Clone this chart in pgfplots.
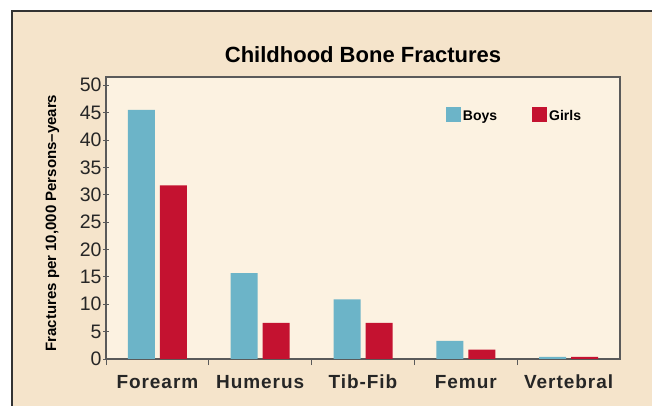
\documentclass[border=0pt]{standalone}
\usepackage{fontspec}
\setmainfont{Liberation Sans}
\newfontfamily\catfont[LetterSpace=5]{Liberation Sans}
\usepackage{pgfplots}
\pgfplotsset{compat=1.18}
\definecolor{outerbg}{HTML}{F5E4CB}
\definecolor{innerbg}{HTML}{FCF2E1}
\definecolor{boys}{HTML}{6CB4C8}
\definecolor{girls}{HTML}{C41230}
\definecolor{axisgray}{HTML}{5A5A5A}
\begin{document}
\begin{tikzpicture}[x=1pt,y=1pt]
\useasboundingbox (0,0) rectangle (652,406);
\fill[outerbg] (12,0) rectangle (652,395);
\draw[line width=1.8pt, black!80] (12,0) -- (12,395) -- (652,395);
\begin{axis}[
  at={(106pt,47pt)}, anchor=south west,
  width=514pt, height=282pt, scale only axis,
  xmin=-0.5, xmax=4.5, ymin=0, ymax=51.5,
  axis background/.style={fill=innerbg},
  axis line style={axisgray, line width=1.2pt},
  ytick={0,5,...,50},
  xtick={0,...,4},
  xticklabels={Forearm,Humerus,Tib-Fib,Femur,Vertebral},
  minor xtick={-0.5,0.5,1.5,2.5,3.5},
  major x tick style={draw=none},
  tick style={axisgray, line width=0.8pt},
  tick align=center,
  major tick length=6pt, minor tick length=6pt,
  xtick pos=bottom, ytick pos=left,
  /pgf/number format/assume math mode=true,
  y tick label style={font=\fontsize{19.5}{19.5}\selectfont, text=black!85, xshift=2pt},
  x tick label style={font=\catfont\bfseries\fontsize{19}{19}\selectfont, text=black!85, anchor=base, yshift=-23pt},
  ylabel={Fractures per 10,000 Persons--years},
  ylabel style={font=\bfseries\fontsize{15}{15}\selectfont, at={(axis description cs:-0.097,0.482)}, anchor=base},
  title={Childhood Bone Fractures},
  title style={font=\bfseries\fontsize{22}{22}\selectfont, at={(axis description cs:0.5,1)}, anchor=base, yshift=8pt},
  ybar=5pt, bar width=27pt,
  legend style={at={(axis description cs:0.661,0.862)}, anchor=west, draw=none, fill=none,
    font=\bfseries\fontsize{14}{14}\selectfont, inner sep=0pt,
    nodes={inner sep=2pt},
    /tikz/every even column/.append style={column sep=33pt}},
  legend columns=2,
  legend image code/.code={\fill[#1] (0pt,-6pt) rectangle (15pt,9pt);},
]
\addplot[fill=boys, draw=none] coordinates {(0,45.5) (1,15.7) (2,10.9) (3,3.3) (4,0.4)};
\addplot[fill=girls, draw=none] coordinates {(0,31.7) (1,6.6) (2,6.6) (3,1.7) (4,0.4)};
\legend{Boys,Girls}
\end{axis}
\end{tikzpicture}
\end{document}
